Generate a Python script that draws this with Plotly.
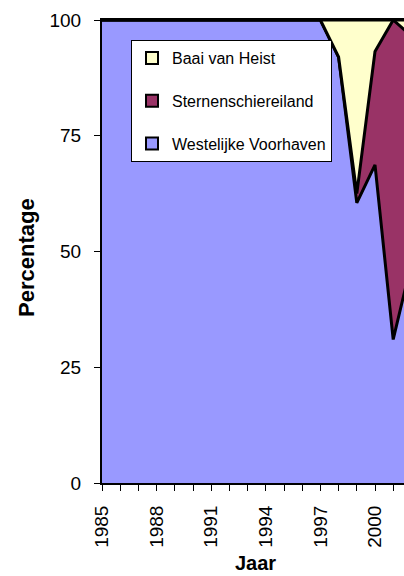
import plotly.graph_objects as go

years = list(range(1985, 2003))
westelijke = [100]*13 + [92, 60.5, 68.7, 31, 47.5]
sternen = [0]*13 + [0, 2, 24.5, 69, 49]
baai = [0]*13 + [8, 37.5, 6.8, 0, 3.5]
y_ticks = [0, 25, 50, 75, 100]
x_label_years = [1985, 1988, 1991, 1994, 1997, 2000]

names = ["Westelijke Voorhaven", "Sternenschiereiland", "Baai van Heist"]
colors = ["#9999FF", "#993366", "#FFFFCC"]
series = [westelijke, sternen, baai]

fig = go.Figure()
for name, col, vals in zip(names, colors, series):
    fig.add_trace(go.Scatter(
        x=years, y=vals, name=name, stackgroup="one",
        mode="lines", line=dict(color="black", width=3),
        fillcolor=col, showlegend=False, hoverinfo="skip"))

# legend entries (top to bottom)
for name, col in zip(names[::-1], colors[::-1]):
    fig.add_trace(go.Bar(
        x=[None], y=[None], name=name, legendgroup=name,
        marker=dict(color=col, line=dict(color="black", width=2)),
        showlegend=True))

font_family = "Liberation Sans, Arial, sans-serif"
fig.update_layout(
    width=404, height=576,
    margin=dict(l=102, r=0, t=20, b=93),
    paper_bgcolor="white", plot_bgcolor="white",
    font=dict(family=font_family, color="black", size=17),
    showlegend=True,
    legend=dict(
        x=(131-102)/302, y=(483-40)/463, xanchor="left", yanchor="top",
        bgcolor="white", bordercolor="black", borderwidth=1,
        font=dict(size=16, family=font_family, color="black"),
        traceorder="grouped", tracegroupgap=19,
    ),
    xaxis=dict(
        range=[1985, 1985 + 302/18.2],
        tickvals=years,
        ticktext=[str(y) if y in x_label_years else "" for y in years],
        tickangle=-90, ticks="outside", ticklen=6, tickwidth=1, tickcolor="black",
        showline=True, linecolor="black", linewidth=2, mirror=True,
        showgrid=False, zeroline=False, ticklabelstandoff=7,
        tickfont=dict(size=19),
    ),
    yaxis=dict(
        range=[0, 100], tickvals=y_ticks,
        ticks="outside", ticklen=6, tickwidth=1, tickcolor="black",
        showline=True, linecolor="black", linewidth=2,
        showgrid=False, zeroline=False, ticklabelstandoff=9,
        tickfont=dict(size=19),
    ),
    annotations=[
        dict(text="<b>Percentage</b>", xref="paper", yref="paper",
             x=(26-102)/302, y=(483-258)/463, textangle=-90,
             xanchor="center", yanchor="middle", showarrow=False,
             font=dict(size=22, family=font_family)),
        dict(text="<b>Jaar</b>", xref="paper", yref="paper",
             x=(255-102)/302, y=(483-563)/463,
             xanchor="center", yanchor="middle", showarrow=False,
             font=dict(size=20, family=font_family)),
    ],
)

fig.write_html("out.html", config={"displayModeBar": False},
               post_script="document.body.style.margin='0';document.body.style.overflow='hidden';")
